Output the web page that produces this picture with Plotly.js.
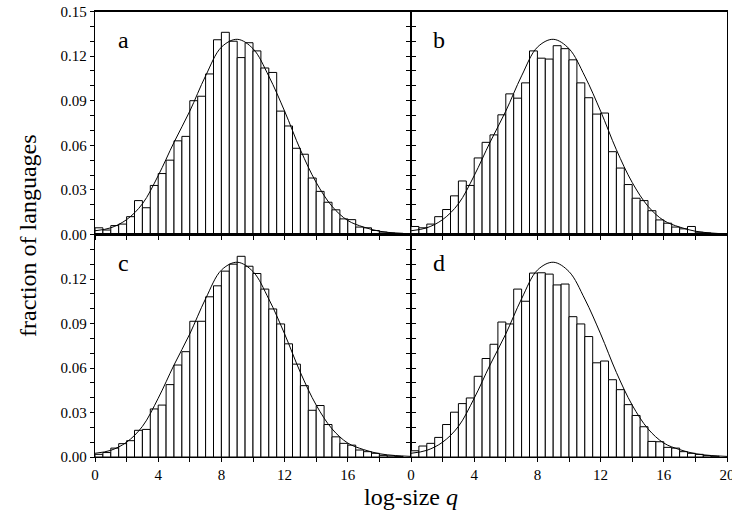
<!DOCTYPE html>
<html>
<head>
<meta charset="utf-8">
<script src="https://cdn.plot.ly/plotly-3.0.1.min.js"></script>
<style>
  html, body { margin: 0; padding: 0; background: #fff; }
  #chart { width: 732px; height: 521px; }
</style>
</head>
<body>
<div id="chart"></div>
<script>
// bin centres of the log-size histogram (bin width 0.5)
const binCenters = [0.25, 0.75, 1.25, 1.75, 2.25, 2.75, 3.25, 3.75, 4.25, 4.75,
  5.25, 5.75, 6.25, 6.75, 7.25, 7.75, 8.25, 8.75, 9.25, 9.75,
  10.25, 10.75, 11.25, 11.75, 12.25, 12.75, 13.25, 13.75, 14.25, 14.75,
  15.25, 15.75, 16.25, 16.75, 17.25, 17.75, 18.25, 18.75, 19.25];

// fraction of languages per bin
const panelA = [0.0045, 0.003, 0.006, 0.007, 0.012, 0.0228, 0.018, 0.033, 0.041, 0.050,
  0.063, 0.066, 0.090, 0.093, 0.108, 0.131, 0.136, 0.130, 0.119, 0.129,
  0.1235, 0.112, 0.109, 0.083, 0.073, 0.058, 0.054, 0.038, 0.029, 0.0217,
  0.0166, 0.0105, 0.010, 0.005, 0.0045, 0.0027, 0.0016, 0.001, 0.0008];
const panelB = [0.0054, 0.0045, 0.007, 0.012, 0.0168, 0.026, 0.036, 0.033, 0.0515, 0.062,
  0.067, 0.0805, 0.0946, 0.0917, 0.102, 0.1235, 0.1186, 0.118, 0.127, 0.125,
  0.1175, 0.102, 0.092, 0.081, 0.0817, 0.0557, 0.0447, 0.0336, 0.0244, 0.0228,
  0.016, 0.0098, 0.0076, 0.005, 0.0038, 0.0054, 0.0015, 0.001, 0.0005];
const panelC = [0.0018, 0.003, 0.006, 0.009, 0.011, 0.018, 0.0186, 0.0324, 0.035, 0.0488,
  0.062, 0.071, 0.0915, 0.0915, 0.108, 0.1154, 0.1253, 0.130, 0.1353, 0.1286,
  0.1237, 0.1132, 0.0998, 0.0897, 0.0763, 0.0626, 0.0481, 0.0315, 0.0347, 0.0219,
  0.0136, 0.0092, 0.008, 0.0047, 0.0036, 0.0025, 0.0011, 0.0007, 0.0004];
const panelD = [0.0042, 0.0074, 0.0092, 0.0132, 0.0219, 0.0302, 0.036, 0.0398, 0.0544, 0.0664,
  0.076, 0.091, 0.0897, 0.1132, 0.105, 0.124, 0.1242, 0.1233, 0.116, 0.1166,
  0.0946, 0.0897, 0.0812, 0.0635, 0.0647, 0.0521, 0.0454, 0.0353, 0.028, 0.0204,
  0.0105, 0.0103, 0.0065, 0.006, 0.0036, 0.0025, 0.0018, 0.0009, 0.0005];

// fitted curve (same in all panels), read at integer q
const curveQ = [0, 1, 2, 3, 4, 5, 6, 7, 8, 9, 10, 11, 12, 13, 14, 15, 16, 17, 18, 19, 20];
const curveY = [0.0025, 0.0045, 0.010, 0.0206, 0.0396, 0.062, 0.083, 0.1067, 0.126, 0.1313,
  0.125, 0.1065, 0.083, 0.057, 0.035, 0.019, 0.0094, 0.005, 0.0022, 0.001, 0.0004];

const panelLabels = ["a", "b", "c", "d"];
const panelData = [panelA, panelB, panelC, panelD];

const serif = "Liberation Serif, Times New Roman, serif";
const traces = [];
const annotations = [];
const axisNames = [["x", "y"], ["x2", "y2"], ["x3", "y3"], ["x4", "y4"]];

panelData.forEach((vals, i) => {
    const [xa, ya] = axisNames[i];
    traces.push({
        type: "bar",
        x: binCenters,
        y: vals,
        width: 0.5,
        xaxis: xa, yaxis: ya,
        marker: { color: "#ffffff", line: { color: "#000000", width: 1 } },
        hoverinfo: "x+y"
    });
    traces.push({
        type: "scatter",
        mode: "lines",
        x: curveQ,
        y: curveY,
        xaxis: xa, yaxis: ya,
        line: { color: "#000000", width: 1, shape: "spline", smoothing: 1 },
        hoverinfo: "skip"
    });
    annotations.push({
        text: panelLabels[i],
        xref: xa, yref: ya,
        x: 1.8, y: 0.131,
        showarrow: false,
        font: { family: serif, size: 24, color: "#000" }
    });
});

// axis titles as annotations, x one with italic q
annotations.push({
    text: "log-size <i>q</i>",
    xref: "paper", yref: "paper",
    x: 0.5615, y: 1 - 497 / 521,
    xanchor: "center", yanchor: "middle",
    showarrow: false,
    font: { family: serif, size: 24, color: "#000" }
});
annotations.push({
    text: "fraction of languages",
    xref: "paper", yref: "paper",
    x: 28 / 732, y: 1 - 236 / 521,
    xanchor: "center", yanchor: "middle",
    textangle: -90,
    showarrow: false,
    font: { family: serif, size: 24, color: "#000" }
});

const xLeft = [95 / 732, 411 / 732];
const xRight = [411 / 732, 727 / 732];
const yTop = [1 - 234.5 / 521, 1 - 11.5 / 521];
const yBottom = [1 - 457 / 521, 1 - 234.5 / 521];

function xAxis(domain, anchor, showLabels, tickvals) {
    return {
        domain: domain, anchor: anchor,
        range: [0, 20],
        showline: true, mirror: true, linecolor: "#000", linewidth: 1.2,
        showgrid: false, zeroline: false,
        ticks: "outside", ticklen: 4, tickcolor: "#000", tickwidth: 1,
        tickvals: tickvals,
        showticklabels: showLabels,
        ticklabeloverflow: "allow",
        minor: { dtick: 2, ticks: "outside", ticklen: 4, tickcolor: "#000" },
        tickfont: { family: serif, size: 15, color: "#000" },
        fixedrange: true
    };
}

function yAxis(domain, anchor, showLabels, tickvals, mirror) {
    return {
        domain: domain, anchor: anchor,
        range: [0, 0.15],
        showline: true, mirror: mirror, linecolor: "#000", linewidth: 1.2,
        showgrid: false, zeroline: false,
        ticks: "outside", ticklen: 4, tickcolor: "#000", tickwidth: 1,
        tickvals: tickvals,
        tickformat: ".2f",
        showticklabels: showLabels,
        ticklabeloverflow: "allow",
        minor: { dtick: 0.01, ticks: "outside", ticklen: 4, tickcolor: "#000" },
        tickfont: { family: serif, size: 15, color: "#000" },
        fixedrange: true
    };
}

const layout = {
    width: 732, height: 521,
    margin: { l: 0, r: 0, t: 0, b: 0 },
    paper_bgcolor: "#fff", plot_bgcolor: "#fff",
    showlegend: false,
    bargap: 0,
    font: { family: serif, color: "#000" },
    xaxis: xAxis(xLeft, "y", false, [0, 4, 8, 12, 16]),
    yaxis: yAxis(yTop, "x", true, [0, 0.03, 0.06, 0.09, 0.12, 0.15], "ticks"),
    xaxis2: xAxis(xRight, "y2", false, [0, 4, 8, 12, 16, 20]),
    yaxis2: yAxis(yTop, "x2", false, [0, 0.03, 0.06, 0.09, 0.12, 0.15], true),
    xaxis3: xAxis(xLeft, "y3", true, [0, 4, 8, 12, 16]),
    yaxis3: yAxis(yBottom, "x3", true, [0, 0.03, 0.06, 0.09, 0.12], "ticks"),
    xaxis4: xAxis(xRight, "y4", true, [0, 4, 8, 12, 16, 20]),
    yaxis4: yAxis(yBottom, "x4", false, [0, 0.03, 0.06, 0.09, 0.12], true),
    annotations: annotations
};

Plotly.newPlot("chart", traces, layout, { displayModeBar: false, staticPlot: true });
</script>
</body>
</html>
